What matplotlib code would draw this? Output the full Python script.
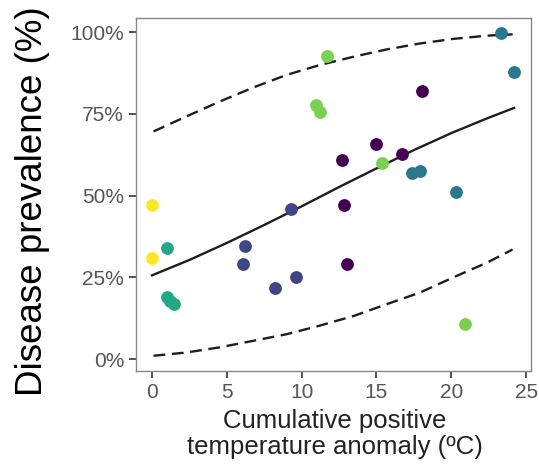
import matplotlib
matplotlib.use("Agg")
import matplotlib.pyplot as plt
from matplotlib.ticker import PercentFormatter

plt.rcParams["font.family"] = ["Liberation Sans", "DejaVu Sans"]

# observed points, grouped by colour (x = cumulative anomaly, y = prevalence %)
yellow_x = [0.0, 0.0]
yellow_y = [47.0, 31.0]

seagreen_x = [1.0, 1.0, 1.2, 1.5]
seagreen_y = [34.0, 19.0, 17.7, 16.8]

blue_x = [6.2, 6.1, 8.2, 9.3, 9.6]
blue_y = [34.5, 29.0, 21.6, 46.0, 25.0]

purple_x = [12.8, 13.0, 12.7, 15.0, 16.7, 18.05]
purple_y = [47.0, 29.0, 61.0, 65.8, 62.8, 82.0]

green_x = [11.7, 10.96, 11.2, 15.4, 20.9]
green_y = [92.7, 77.7, 75.6, 60.0, 10.7]

teal_x = [23.3, 24.2, 17.4, 17.9, 20.3]
teal_y = [99.7, 87.8, 57.0, 57.6, 51.0]

# fitted curve and bands
fit_x = [0, 2.5, 5, 7.5, 10, 12.5, 15, 17.5, 20, 22.5, 24.2]
fit_y = [25.6, 30.3, 35.5, 41.0, 46.7, 52.6, 58.3, 63.9, 69.1, 73.8, 76.8]

band_x = [0.1, 2.3, 4.55, 6.8, 9.0, 11.2, 13.5, 15.7, 17.9, 20.1, 22.4, 24.1]
upper_y = [69.6, 74.2, 78.8, 83.1, 86.9, 89.9, 92.5, 94.7, 96.5, 97.9, 98.9, 99.3]
lower_y = [1.0, 2.0, 3.6, 5.6, 7.6, 10.2, 13.2, 16.8, 20.3, 24.9, 29.5, 33.5]

groups = [
    (purple_x, purple_y, "#440154"),
    (blue_x, blue_y, "#414487"),
    (teal_x, teal_y, "#2a788e"),
    (seagreen_x, seagreen_y, "#22a884"),
    (green_x, green_y, "#7ad151"),
    (yellow_x, yellow_y, "#fde725"),
]

fig = plt.figure(figsize=(5.39, 4.66), dpi=100)
ax = fig.add_axes([136 / 539, 1 - 371 / 466, 395 / 539, 353 / 466])

ax.plot(band_x, upper_y, color="#1e1e1e", linewidth=1.7, dashes=(5.0, 2.8))
ax.plot(band_x, lower_y, color="#1e1e1e", linewidth=1.7, dashes=(5.0, 2.8))
ax.plot(fit_x, fit_y, color="#1e1e1e", linewidth=1.7)

for gx, gy, col in groups:
    ax.scatter(gx, gy, s=85, color=col, linewidths=0, zorder=3)

ax.set_xlim(-1.07, 25.33)
ax.set_ylim(-3.66, 104.3)
ax.set_xticks([0, 5, 10, 15, 20, 25])
ax.set_yticks([0, 25, 50, 75, 100])
ax.yaxis.set_major_formatter(PercentFormatter(decimals=0))

ax.tick_params(labelsize=15, labelcolor="#555555", color="#333333",
               length=5, width=1.2)
for spine in ax.spines.values():
    spine.set_color("#888888")
    spine.set_linewidth(1.0)

fig.text(33 / 539, 1 - 201 / 466, "Disease prevalence (%)", rotation=90,
         ha="center", va="center", fontsize=26.5, color="black")
fig.text(335 / 539, 1 - 434 / 466,
         "Cumulative positive\ntemperature anomaly (ºC)",
         ha="center", va="center", fontsize=18.5, color="#222222",
         linespacing=1.12)

fig.savefig("out.png", dpi=100)
